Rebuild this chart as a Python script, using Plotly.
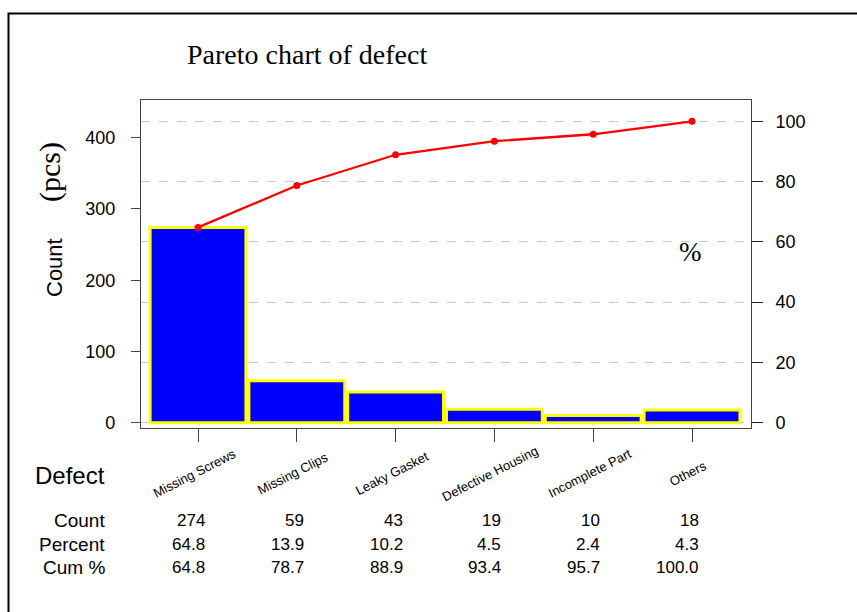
import plotly.graph_objects as go

categories = ["Missing Screws", "Missing Clips", "Leaky Gasket", "Defective Housing", "Incomplete Part", "Others"]
counts = [274, 59, 43, 19, 10, 18]
percent = [64.8, 13.9, 10.2, 4.5, 2.4, 4.3]
cum_percent = [64.8, 78.7, 88.9, 93.4, 95.7, 100.0]
left_ticks = [0, 100, 200, 300, 400]
right_ticks = [0, 20, 40, 60, 80, 100]

total = sum(counts)
y1_range = [-7.4, 452.9]
y2_range = [v * 100.0 / total for v in y1_range]

# pixel geometry of plot area
L, R, T, B = 141, 751, 100, 428
W, H = 857, 612
PW, PH = R - L, B - T

def px(x):
    return (x - L) / PW

def py(y):
    return (B - y) / PH

SANS = "Liberation Sans, Arial, sans-serif"
SERIF = "Liberation Serif, Times New Roman, serif"

fig = go.Figure()
fig.add_trace(go.Bar(
    x=categories, y=counts,
    marker=dict(color="#0000ff", line=dict(color="#ffff00", width=3)),
    yaxis="y", showlegend=False, hoverinfo="x+y",
))
fig.add_trace(go.Scatter(
    x=categories, y=cum_percent, yaxis="y2", mode="lines+markers",
    line=dict(color="#ff0000", width=2.3),
    marker=dict(color="#ff0000", size=7),
    showlegend=False,
))

annotations = []
annotations.append(dict(text="Pareto chart of defect", xref="paper", yref="paper",
                        x=px(306.5), y=py(54), xanchor="center", yanchor="middle",
                        showarrow=False, font=dict(family=SERIF, size=28, color="black")))
annotations.append(dict(text="Count", xref="paper", yref="paper", x=px(54), y=py(268),
                        xanchor="center", yanchor="middle", textangle=-90, showarrow=False,
                        font=dict(family=SANS, size=22, color="black")))
annotations.append(dict(text="(pcs)", xref="paper", yref="paper", x=px(50), y=py(172),
                        xanchor="center", yanchor="middle", textangle=-90, showarrow=False,
                        font=dict(family=SERIF, size=30, color="black")))
annotations.append(dict(text="%", xref="paper", yref="paper", x=px(690), y=py(252),
                        xanchor="center", yanchor="middle", showarrow=False,
                        font=dict(family=SERIF, size=27, color="black")))
annotations.append(dict(text="Defect", xref="paper", yref="paper", x=px(70), y=py(476),
                        xanchor="center", yanchor="middle", showarrow=False,
                        font=dict(family=SANS, size=24, color="black")))
for c in categories:
    annotations.append(dict(text=c, xref="x", yref="paper", x=c, y=py(473), xshift=-4,
                            xanchor="center", yanchor="middle", textangle=-27, showarrow=False,
                            font=dict(family=SANS, size=13, color="black")))

rows = [("Count", [str(v) for v in counts], 520),
        ("Percent", ["%.1f" % v for v in percent], 544),
        ("Cum %", ["%.1f" % v for v in cum_percent], 567)]
for label, vals, ypix in rows:
    annotations.append(dict(text=label, xref="paper", yref="paper", x=px(107), y=py(ypix),
                            xanchor="right", yanchor="middle", showarrow=False,
                            font=dict(family=SANS, size=19, color="black")))
    for c, v in zip(categories, vals):
        annotations.append(dict(text=v, xref="x", yref="paper", x=c, y=py(ypix), xshift=9,
                                xanchor="right", yanchor="middle", showarrow=False,
                                font=dict(family=SANS, size=17, color="black")))

shapes = [
    # outer frame
    dict(type="rect", xref="paper", yref="paper", x0=px(8.5), x1=px(W + 20), y0=py(H + 20), y1=py(13.5),
         line=dict(color="black", width=2), fillcolor="rgba(0,0,0,0)", layer="above"),
    # white gap in grid behind the % label
    dict(type="rect", xref="paper", yref="y2", x0=px(657), x1=px(742), y0=58, y1=62,
         line=dict(width=0), fillcolor="white", layer="between"),
]

fig.update_layout(
    width=W, height=H,
    margin=dict(l=L, r=W - R, t=T, b=H - B, autoexpand=False),
    paper_bgcolor="white", plot_bgcolor="white",
    bargap=0.03,
    showlegend=False,
    xaxis=dict(type="category", range=[-0.577, 5.597], showticklabels=False,
               ticks="outside", ticklen=13, tickcolor="#444", tickwidth=1,
               showline=True, linecolor="#444", linewidth=1.2, mirror=True,
               showgrid=False, zeroline=False, fixedrange=True),
    yaxis=dict(range=y1_range, tickvals=left_ticks, ticks="outside", ticklen=9,
               tickcolor="#444", tickwidth=1, showline=True, linecolor="#444",
               linewidth=1.2, mirror=True, showgrid=False, zeroline=False,
               ticklabelstandoff=12,
               tickfont=dict(family=SANS, size=18, color="black")),
    yaxis2=dict(range=y2_range, tickvals=right_ticks, overlaying="y", side="right",
                ticks="outside", ticklen=11, tickcolor="#222", tickwidth=1,
                showline=False, showgrid=True, gridcolor="#c8c8c8", griddash="dash",
                gridwidth=1, zeroline=False, ticklabelstandoff=9,
                tickfont=dict(family=SANS, size=18, color="black")),
    annotations=annotations,
    shapes=shapes,
)

fig.write_html("out.html", config={"displayModeBar": False},
               post_script="document.body.style.margin='0px';document.body.style.overflow='hidden';")
